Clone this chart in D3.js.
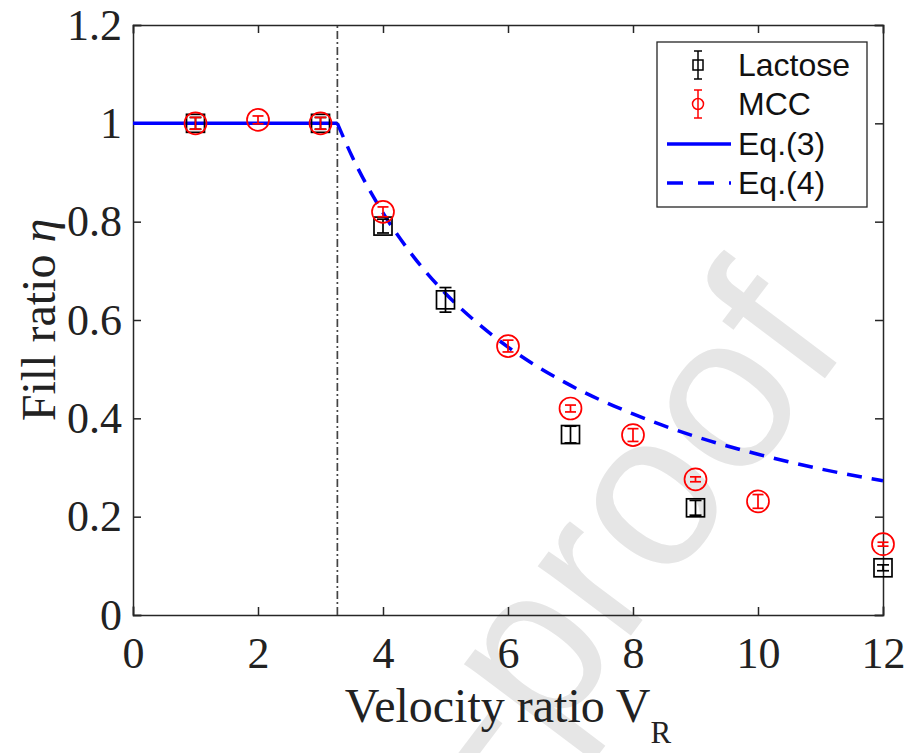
<!DOCTYPE html>
<html>
<head>
<meta charset="utf-8">
<script src="https://cdn.jsdelivr.net/npm/d3@7"></script>
<style>
  html, body { margin: 0; padding: 0; background: #fff; }
  svg { display: block; }
</style>
</head>
<body>
<svg id="chart" width="909" height="753"></svg>
<script>
// Measured fill ratio vs. velocity ratio
const lactoseX   = [1, 3, 4, 5, 7, 9, 12];
const lactoseY   = [1.0, 1.0, 0.791, 0.641, 0.367, 0.218, 0.096];
const lactoseErr = [0.012, 0.012, 0.014, 0.025, 0.017, 0.015, 0.006];

const mccX   = [1, 2, 3, 4, 6, 7, 8, 9, 10, 12];
const mccY   = [1.0, 1.007, 1.0, 0.82, 0.547, 0.42, 0.366, 0.276, 0.231, 0.144];
const mccErr = [0.012, 0.008, 0.012, 0.01, 0.012, 0.007, 0.013, 0.005, 0.014, 0.004];

// Model curves
const eq3X = [0, 3.27];
const eq3Y = [1.0, 1.0];
const eq4X = [3.27, 3.5, 4, 4.5, 5, 5.5, 6, 7, 8, 9, 10, 11, 12];
const eq4Y = [1.0, 0.934, 0.818, 0.727, 0.654, 0.595, 0.545, 0.467, 0.409, 0.363, 0.327, 0.297, 0.273];

// Critical velocity ratio marker
const criticalVR = 3.27;

const xTicks = [0, 2, 4, 6, 8, 10, 12];
const yTicks = [0, 0.2, 0.4, 0.6, 0.8, 1, 1.2];
const legendLabels = ["Lactose", "MCC", "Eq.(3)", "Eq.(4)"];

const svg = d3.select("#chart");
const plotL = 133, plotR = 883, plotT = 25, plotB = 615;

const x = d3.scaleLinear().domain([0, 12]).range([plotL, plotR]);
const y = d3.scaleLinear().domain([0, 1.2]).range([plotB, plotT]);

const axisColor = "#262626";
const serif = "'Liberation Serif', 'Times New Roman', serif";
const sans = "'Liberation Sans', Arial, sans-serif";

// Watermark
svg.append("text")
  .attr("transform", "translate(850,345) rotate(-53)")
  .attr("text-anchor", "end")
  .attr("font-family", sans)
  .attr("font-size", 220)
  .attr("fill", "#e6e6e6")
  .text("Journal Pre-proof");

// Axes (box with inward ticks on all sides)
const tickLen = 8;
function styleAxis(g) {
  g.selectAll("path").attr("stroke", axisColor).attr("stroke-width", 1.5);
  g.selectAll("line").attr("stroke", axisColor).attr("stroke-width", 1.5);
}
svg.append("g").attr("transform", `translate(0,${plotB})`)
  .call(d3.axisBottom(x).tickValues(xTicks).tickSize(-tickLen).tickPadding(22).tickFormat(d3.format("d")))
  .call(styleAxis)
  .call(g => g.selectAll("text").attr("font-family", serif).attr("font-size", 44).attr("fill", "#222"));
svg.append("g").attr("transform", `translate(0,${plotT})`)
  .call(d3.axisTop(x).tickValues(xTicks).tickSize(-tickLen).tickFormat(""))
  .call(styleAxis);
svg.append("g").attr("transform", `translate(${plotL},0)`)
  .call(d3.axisLeft(y).tickValues(yTicks).tickSize(-tickLen).tickPadding(11).tickFormat(d => d3.format("~g")(d)))
  .call(styleAxis)
  .call(g => g.selectAll("text").attr("font-family", serif).attr("font-size", 44).attr("fill", "#222"));
svg.append("g").attr("transform", `translate(${plotR},0)`)
  .call(d3.axisRight(y).tickValues(yTicks).tickSize(-tickLen).tickFormat(""))
  .call(styleAxis);
svg.selectAll(".domain").attr("stroke-linecap", "square");

// Axis titles
const yl = svg.append("text")
  .attr("transform", `translate(55,${(plotT + plotB) / 2}) rotate(-90)`)
  .attr("text-anchor", "middle")
  .attr("font-family", serif).attr("font-size", 48).attr("fill", "#222");
yl.append("tspan").text("Fill ratio ");
yl.append("tspan").attr("font-style", "italic").text("η");

const xl = svg.append("text")
  .attr("x", (plotL + plotR) / 2).attr("y", 722)
  .attr("text-anchor", "middle")
  .attr("font-family", serif).attr("font-size", 48).attr("fill", "#222");
xl.append("tspan").text("Velocity ratio V");
xl.append("tspan").attr("dy", 21).attr("font-size", 31).text("R");

// Critical line
svg.append("line")
  .attr("x1", x(criticalVR)).attr("x2", x(criticalVR))
  .attr("y1", y(0)).attr("y2", y(1.2))
  .attr("stroke", "#444").attr("stroke-width", 1.7)
  .attr("stroke-dasharray", "8,3,2,3");

// Model lines
const line = d3.line().x(d => x(d[0])).y(d => y(d[1]));
svg.append("path")
  .attr("d", line(d3.zip(eq3X, eq3Y)))
  .attr("fill", "none").attr("stroke", "#0000ff").attr("stroke-width", 3.5);
svg.append("path")
  .attr("d", line.curve(d3.curveMonotoneX)(d3.zip(eq4X, eq4Y)))
  .attr("fill", "none").attr("stroke", "#0000ff").attr("stroke-width", 3.5)
  .attr("stroke-dasharray", "15,10");

// Error bars + markers
function errorBars(xs, ys, es, color, capW) {
  const g = svg.append("g").attr("stroke", color).attr("stroke-width", 1.7).attr("fill", "none");
  xs.forEach((xv, i) => {
    const cx = x(xv), lo = y(ys[i] - es[i]), hi = y(ys[i] + es[i]);
    g.append("line").attr("x1", cx).attr("x2", cx).attr("y1", lo).attr("y2", hi);
    g.append("line").attr("x1", cx - capW / 2).attr("x2", cx + capW / 2).attr("y1", lo).attr("y2", lo);
    g.append("line").attr("x1", cx - capW / 2).attr("x2", cx + capW / 2).attr("y1", hi).attr("y2", hi);
  });
  return g;
}
const gL = errorBars(lactoseX, lactoseY, lactoseErr, "#000", 12);
lactoseX.forEach((xv, i) => {
  gL.append("rect").attr("x", x(xv) - 9).attr("y", y(lactoseY[i]) - 9)
    .attr("width", 18).attr("height", 18);
});
const gM = errorBars(mccX, mccY, mccErr, "#ff0000", 11);
mccX.forEach((xv, i) => {
  gM.append("circle").attr("cx", x(xv)).attr("cy", y(mccY[i])).attr("r", 11);
});

// Legend
const lg = svg.append("g");
lg.append("rect").attr("x", 657).attr("y", 42).attr("width", 210).attr("height", 165)
  .attr("fill", "#fff").attr("stroke", axisColor).attr("stroke-width", 1.3);
const rowY = [65, 104, 144, 183];
legendLabels.forEach((t, i) => {
  lg.append("text").attr("x", 738).attr("y", rowY[i]).attr("dy", "0.35em")
    .attr("font-family", sans).attr("font-size", 32).attr("fill", "#111").text(t);
});
function legendErr(cy, color) {
  const g = lg.append("g").attr("stroke", color).attr("stroke-width", 1.5).attr("fill", "none");
  g.append("line").attr("x1", 698).attr("x2", 698).attr("y1", cy - 14).attr("y2", cy + 14);
  g.append("line").attr("x1", 694).attr("x2", 702).attr("y1", cy - 14).attr("y2", cy - 14);
  g.append("line").attr("x1", 694).attr("x2", 702).attr("y1", cy + 14).attr("y2", cy + 14);
  return g;
}
legendErr(rowY[0], "#000").append("rect").attr("x", 693).attr("y", rowY[0] - 5).attr("width", 10).attr("height", 10);
legendErr(rowY[1], "#ff0000").append("circle").attr("cx", 698).attr("cy", rowY[1]).attr("r", 5.5);
lg.append("line").attr("x1", 667).attr("x2", 731).attr("y1", rowY[2]).attr("y2", rowY[2])
  .attr("stroke", "#0000ff").attr("stroke-width", 3.5);
lg.append("line").attr("x1", 667).attr("x2", 731).attr("y1", rowY[3]).attr("y2", rowY[3])
  .attr("stroke", "#0000ff").attr("stroke-width", 3.5).attr("stroke-dasharray", "16,15");
</script>
</body>
</html>
